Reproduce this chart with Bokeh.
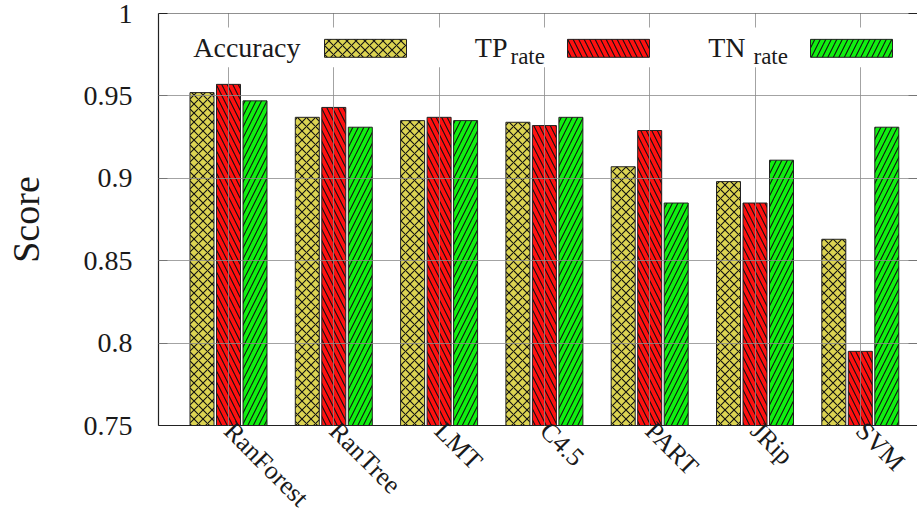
import numpy as np
from bokeh.plotting import figure
from bokeh.models import Range1d, FixedTicker, LinearAxis, Span
from bokeh.embed import file_html
from bokeh.resources import INLINE
from bokeh.core.properties import value

# ---------------- data ----------------
categories = ["RanForest", "RanTree", "LMT", "C4.5", "PART", "JRip", "SVM"]
accuracy = [0.952, 0.937, 0.935, 0.934, 0.907, 0.898, 0.863]
tp_rate = [0.957, 0.943, 0.937, 0.932, 0.929, 0.885, 0.795]
tn_rate = [0.947, 0.931, 0.935, 0.937, 0.885, 0.911, 0.931]
y_ticks = [0.75, 0.8, 0.85, 0.9, 0.95, 1.0]
y_tick_labels = ["0.75", "0.8", "0.85", "0.9", "0.95", "1"]
legend_main = ["Accuracy", "TP", "TN"]
legend_sub = ["", "rate", "rate"]

# ---------------- layout helpers (picture pixels -> data) ----------------
FONT_NAME = "Liberation Serif"
FONT = value(FONT_NAME)
W, H = 917, 525
FRAME_L, FRAME_R = 158, 917
FRAME_T, FRAME_B = 13, 427
CAT0_PX, CAT_STEP = 228.0, 105.3
Y0, Y1 = y_ticks[0], y_ticks[-1]


def dx(px):
    return (px - CAT0_PX) / CAT_STEP


def dy(py):
    return Y1 - (py - FRAME_T) * (Y1 - Y0) / (FRAME_B - FRAME_T)


p = figure(width=W, height=H,
           x_range=Range1d(dx(FRAME_L), dx(FRAME_R)),
           y_range=Range1d(Y0, Y1),
           output_backend="svg", toolbar_location=None,
           min_border_left=FRAME_L, min_border_right=0,
           min_border_top=FRAME_T, min_border_bottom=H - FRAME_B)
p.outline_line_color = None
p.background_fill_color = "white"
p.border_fill_color = "white"

idx = np.arange(len(categories))
bw = 24 / CAT_STEP
off = 26.5 / CAT_STEP

styles = [
    dict(fill_color="#dcd452", hatch_pattern="diagonal_cross", hatch_scale=9),
    dict(fill_color="#ff1010", hatch_pattern="left_diagonal_line", hatch_scale=11),
    dict(fill_color="#10f010", hatch_pattern="right_diagonal_line", hatch_scale=11),
]
series = [accuracy, tp_rate, tn_rate]
for k, (vals, st) in enumerate(zip(series, styles)):
    p.vbar(x=idx + (k - 1) * off, top=vals, bottom=Y0, width=bw,
           line_color="#222222", line_width=1, hatch_color="#111111",
           hatch_weight=1.1, **st)

# grid (drawn over bars like gnuplot "grid front")
p.xgrid.ticker = FixedTicker(ticks=list(idx))
p.ygrid.ticker = FixedTicker(ticks=y_ticks[1:-1])
p.grid.grid_line_color = "#8c8c8c"
p.grid.grid_line_alpha = 0.8
p.grid.grid_line_width = 1
p.grid.level = "annotation"

# left axis
ya = p.yaxis[0]
ya.ticker = FixedTicker(ticks=y_ticks)
ya.major_label_overrides = {t: s for t, s in zip(y_ticks, y_tick_labels)}
ya.major_tick_in = 9
ya.major_tick_out = 0
ya.minor_tick_line_color = None
ya.major_label_standoff = 26
ya.major_label_text_font = FONT_NAME
ya.major_label_text_font_size = "28px"
ya.major_label_text_color = "#1a1a1a"
ya.axis_line_color = "#222222"
ya.axis_line_width = 1.2
ya.major_tick_line_color = "#222222"
ya.axis_label = "Score"
ya.axis_label_text_font = FONT_NAME
ya.axis_label_text_font_size = "38px"
ya.axis_label_text_font_style = "normal"
ya.axis_label_text_color = "#1a1a1a"
ya.axis_label_standoff = 34

# bottom axis with rotated category labels
xa = p.xaxis[0]
xa.ticker = FixedTicker(ticks=list(idx))
xa.major_label_overrides = {int(i): c for i, c in zip(idx, categories)}
xa.major_label_orientation = -np.pi / 4
xa.major_label_text_font = FONT_NAME
xa.major_label_text_font_size = "26px"
xa.major_label_text_color = "#1a1a1a"
xa.major_label_standoff = 1
xa.major_tick_in = 0
xa.major_tick_out = 0
xa.minor_tick_line_color = None
xa.axis_line_color = "#222222"
xa.axis_line_width = 1.2

# right axis: mirrored ticks only
ra = LinearAxis(ticker=FixedTicker(ticks=y_ticks))
ra.major_label_overrides = {t: "" for t in y_ticks}
ra.major_label_text_font_size = "1px"
ra.major_label_standoff = 0
ra.major_tick_in = 9
ra.major_tick_out = 0
ra.minor_tick_line_color = None
ra.axis_line_color = None
ra.major_tick_line_color = "#222222"
p.add_layout(ra, "right")

# top border
p.add_layout(Span(location=Y1, dimension="width", line_color="#222222",
                  line_width=1.2))

# legend (gnuplot style: text then sample)
p.quad(left=[dx(185)], right=[dx(905)], top=[dy(27)], bottom=[dy(67)],
       fill_color="white", line_color=None, level="overlay")
text_right_px = [300, 507, 745]
sub_left_px = [0, 510, 753]
box_left_px = [324, 567, 810]
BOX_W = 82
MAIN_BASE_PX, SUB_BASE_PX = 47, 56   # empirically aligned text anchors
for k, st in enumerate(styles):
    p.quad(left=[dx(box_left_px[k])], right=[dx(box_left_px[k] + BOX_W)],
           top=[dy(39)], bottom=[dy(57)], line_color="#222222", line_width=1,
           hatch_color="#111111", hatch_weight=1.1, level="overlay", **st)
    p.text(x=[dx(text_right_px[k])], y=[dy(MAIN_BASE_PX)], text=[legend_main[k]],
           text_align="right", text_baseline="alphabetic", text_font=FONT,
           text_font_size="28px", text_color="#1a1a1a", level="overlay")
    if legend_sub[k]:
        p.text(x=[dx(sub_left_px[k])], y=[dy(SUB_BASE_PX)], text=[legend_sub[k]],
               text_align="left", text_baseline="alphabetic", text_font=FONT,
               text_font_size="23px", text_color="#1a1a1a", level="overlay")

open("out.html", "w").write(file_html(p, INLINE))
